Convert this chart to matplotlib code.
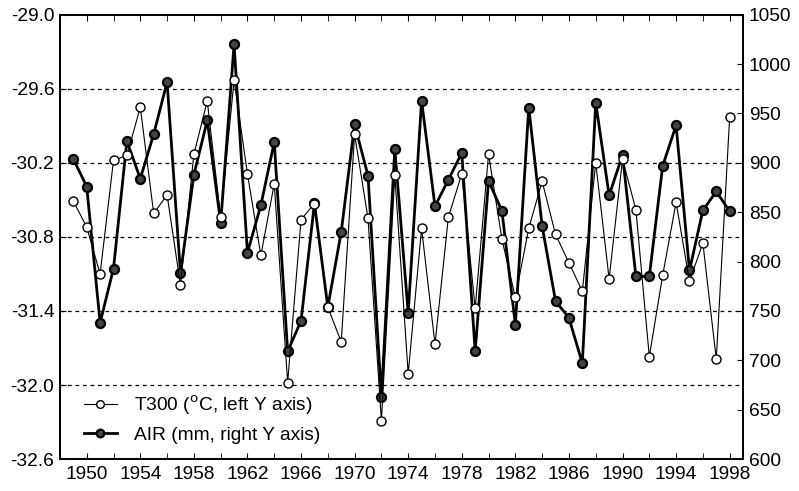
import matplotlib
matplotlib.use("Agg")
import matplotlib.pyplot as plt
import numpy as np

plt.rcParams['font.family'] = ['Liberation Sans', 'DejaVu Sans']

# datos
years = list(range(1949, 1999))

t300 = [-30.51, -30.72, -31.10, -30.18, -30.14, -29.75, -30.61, -30.46, -31.19, -30.13,
        -29.70, -30.64, -29.53, -30.29, -30.95, -30.37, -31.98, -30.66, -30.53, -31.37,
        -31.65, -29.97, -30.65, -32.29, -30.30, -31.91, -30.73, -31.67, -30.64, -30.29,
        -31.38, -30.13, -30.82, -31.29, -30.73, -30.35, -30.78, -31.01, -31.24, -30.20,
        -31.14, -30.17, -30.58, -31.77, -31.11, -30.52, -31.16, -30.85, -31.79, -29.83]

air = [904, 876, 738, 793, 922, 884, 929, 982, 788, 888,
       943, 839, 1020, 809, 857, 921, 709, 740, 859, 754,
       830, 939, 887, 663, 914, 748, 963, 856, 883, 910,
       709, 882, 851, 736, 956, 836, 760, 743, 697, 961,
       867, 908, 785, 785, 897, 938, 791, 852, 871, 851]

left_ticks = [-32.6, -32.0, -31.4, -30.8, -30.2, -29.6, -29.0]
right_ticks = list(range(600, 1051, 50))
year_labels = list(range(1950, 1999, 4))

fs = 13.8

fig = plt.figure(figsize=(7.99, 4.91), dpi=100)
ax = fig.add_axes([0.075, 0.065, 0.855, 0.905])
ax2 = ax.twinx()

# lineas de cuadricula discontinuas
for v in left_ticks[1:-1]:
    ax.axhline(v, color='black', linestyle=(0, (3, 3)), linewidth=0.9, zorder=0)

l1, = ax.plot(years, t300, color='black', linewidth=0.8, marker='o', markersize=6.5,
              markerfacecolor='white', markeredgecolor='black', markeredgewidth=1.0,
              label='T300 ($^{\\rm o}$C, left Y axis)', zorder=3)
l2, = ax2.plot(years, air, color='black', linewidth=2.0, marker='o', markersize=6.5,
               markerfacecolor='#444444', markeredgecolor='black', markeredgewidth=1.6,
               label='AIR (mm, right Y axis)', zorder=4)

ax.set_xlim(1948, 1999)
ax.set_ylim(-32.6, -29.0)
ax2.set_ylim(600, 1050)

ax.set_yticks(left_ticks)
ax.set_yticklabels(['%.1f' % v for v in left_ticks])
ax2.set_yticks(right_ticks)
ax.set_xticks(year_labels)
ax.set_xticks(range(1948, 2000, 2), minor=True)

ax.tick_params(axis='x', which='both', direction='in', top=True, length=4, labelsize=fs, pad=5)
ax.tick_params(axis='y', direction='in', length=4, labelsize=fs, pad=4)
ax2.tick_params(axis='y', direction='in', length=4, labelsize=fs, pad=4)

for a in (ax, ax2):
    for s in a.spines.values():
        s.set_linewidth(1.3)

ax.set_zorder(ax2.get_zorder() + 1)
ax.patch.set_visible(False)

ax.legend([l1, l2], [l1.get_label(), l2.get_label()], loc='lower left',
          bbox_to_anchor=(0.01, -0.005), frameon=False, fontsize=fs,
          handlelength=1.7, handletextpad=0.9, labelspacing=0.5, markerscale=0.85)

fig.savefig('out.png', dpi=100)
